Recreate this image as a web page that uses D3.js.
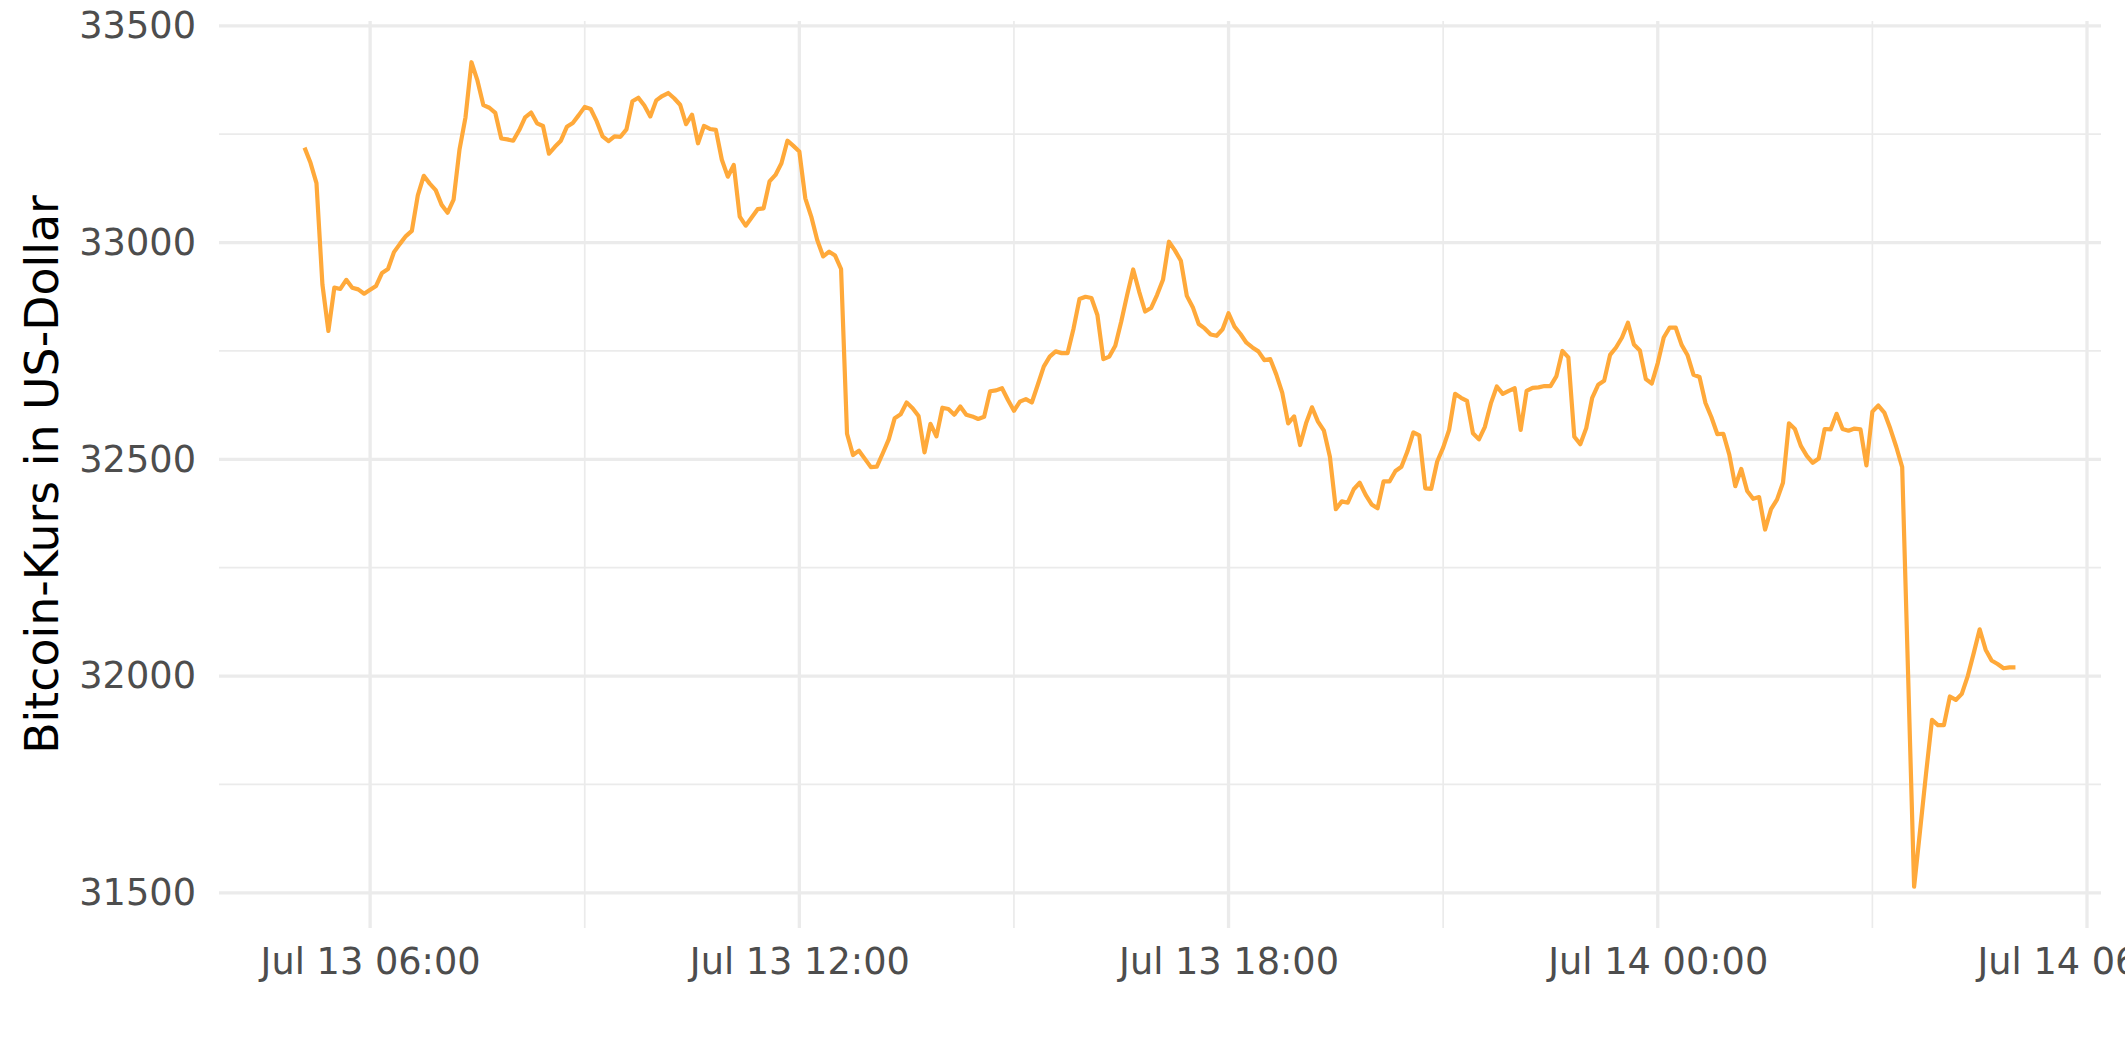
<!DOCTYPE html>
<html>
<head>
<meta charset="utf-8">
<script src="https://cdn.jsdelivr.net/npm/d3@7"></script>
<style>
  html, body { margin: 0; padding: 0; background: #ffffff; }
  svg { display: block; font-family: "DejaVu Sans", sans-serif; }
</style>
</head>
<body>
<svg id="chart" width="2125" height="1062"></svg>
<script>
// ---- data (5-minute Bitcoin prices) ----
const seriesStart = "2021-07-13T05:05:00";
const stepMinutes = 5;

// Jul 13, 05:05 .. 23:55 (one row per hour)
const pricesJul13 = [
  33219,33184,33137,32903,32796,32896,32893,32914,32896,32892,32882,
  32891,32900,32930,32939,32978,32997,33015,33027,33109,33154,33136,33121,
  33087,33069,33099,33215,33289,33416,33374,33317,33311,33299,33240,33238,
  33235,33259,33289,33300,33275,33269,33205,33221,33235,33267,33276,33294,
  33313,33308,33280,33245,33234,33245,33244,33261,33326,33334,33316,33291,
  33328,33338,33345,33333,33318,33273,33295,33229,33269,33262,33260,33191,
  33152,33179,33060,33039,33058,33077,33079,33141,33156,33183,33235,33223,
  33210,33102,33060,33006,32968,32979,32970,32939,32559,32510,32520,32501,
  32482,32483,32514,32546,32595,32604,32631,32618,32600,32516,32582,32553,
  32619,32616,32603,32622,32603,32599,32593,32598,32657,32659,32664,32637,
  32612,32633,32639,32631,32672,32714,32737,32749,32745,32745,32802,32870,
  32875,32872,32833,32731,32737,32762,32818,32880,32938,32887,32841,32849,
  32879,32914,33002,32982,32958,32877,32851,32812,32802,32788,32785,32800,
  32837,32806,32789,32769,32758,32749,32729,32731,32696,32654,32583,32599,
  32533,32583,32620,32587,32566,32506,32385,32403,32400,32431,32446,32418,
  32396,32387,32449,32449,32473,32483,32518,32562,32555,32433,32432,32495,
  32527,32568,32651,32642,32635,32560,32546,32575,32629,32668,32651,32658,
  32664,32568,32658,32665,32666,32669,32669,32692,32750,32735,32552,32535,
  32572,32642,32672,32681,32741,32758,32781,32815,32765,32751,32685,32675
];
// Jul 14, 00:00 .. 05:00
const pricesJul14 = [
  32722,32781,32804,32804,32764,32740,32695,32690,32630,32597,32558,32559,
  32511,32438,32478,32427,32409,32413,32338,32385,32407,32446,32583,32570,
  32531,32508,32492,32502,32570,32569,32605,32570,32566,32571,32569,32486,
  32610,32624,32608,32571,32529,32482,32000,31514,31644,31775,31899,31887,
  31887,31953,31945,31959,32000,32053,32108,32061,32036,32028,32018,32020,
  32020
];

const yTicks = [31500, 32000, 32500, 33000, 33500];
const yMinorTicks = [31750, 32250, 32750, 33250];
const xTickLabels = ["Jul 13 06:00", "Jul 13 12:00", "Jul 13 18:00", "Jul 14 00:00", "Jul 14 06:00"];
const yTitle = "Bitcoin-Kurs in US-Dollar";

// ---- build series ----
const prices = pricesJul13.concat(pricesJul14);
const t0 = new Date(seriesStart);
const data = prices.map((v, i) => ({ t: new Date(t0.getTime() + i * stepMinutes * 60000), v }));

// ---- layout ----
const svg = d3.select("#chart");
const panel = { left: 219, right: 2101, top: 21, bottom: 928 };

const tExt = d3.extent(data, d => d.t);
const tPad = (tExt[1] - tExt[0]) * 0.05;
const x = d3.scaleTime()
  .domain([new Date(+tExt[0] - tPad), new Date(+tExt[1] + tPad)])
  .range([panel.left, panel.right]);

const vExt = d3.extent(data, d => d.v);
const vPad = (vExt[1] - vExt[0]) * 0.05;
const y = d3.scaleLinear()
  .domain([vExt[0] - vPad, vExt[1] + vPad])
  .range([panel.bottom, panel.top]);

const gridCol = "#ebebeb";
const majorTimes = xTickLabels.map(s => d3.timeParse("%b %d %H:%M")(s)).map(d => { d.setFullYear(2021); return d; });
const minorTimes = majorTimes.slice(0, -1).map(d => new Date(+d + 3 * 3600000))
  .concat([new Date(+majorTimes[0] - 3 * 3600000)])
  .filter(d => x(d) >= panel.left && x(d) <= panel.right);

// minor grid
svg.append("g").selectAll("line").data(yMinorTicks).join("line")
  .attr("x1", panel.left).attr("x2", panel.right)
  .attr("y1", d => y(d)).attr("y2", d => y(d))
  .attr("stroke", gridCol).attr("stroke-width", 1.7);
svg.append("g").selectAll("line").data(minorTimes).join("line")
  .attr("x1", d => x(d)).attr("x2", d => x(d))
  .attr("y1", panel.top).attr("y2", panel.bottom)
  .attr("stroke", gridCol).attr("stroke-width", 1.7);

// major grid
svg.append("g").selectAll("line").data(yTicks).join("line")
  .attr("x1", panel.left).attr("x2", panel.right)
  .attr("y1", d => y(d)).attr("y2", d => y(d))
  .attr("stroke", gridCol).attr("stroke-width", 3.3);
svg.append("g").selectAll("line").data(majorTimes).join("line")
  .attr("x1", d => x(d)).attr("x2", d => x(d))
  .attr("y1", panel.top).attr("y2", panel.bottom)
  .attr("stroke", gridCol).attr("stroke-width", 3.3);

// axes (labels only, via d3 axes)
const yAxis = svg.append("g")
  .attr("transform", `translate(${panel.left - 23},0)`)
  .call(d3.axisLeft(y).tickValues(yTicks).tickSize(0).tickPadding(0).tickFormat(d3.format("d")));
yAxis.select(".domain").remove();
yAxis.selectAll("text")
  .attr("font-family", "DejaVu Sans, sans-serif")
  .attr("font-size", 36.7).attr("fill", "#4d4d4d");

const xAxis = svg.append("g")
  .attr("transform", `translate(0,${panel.bottom + 20})`)
  .call(d3.axisBottom(x).tickValues(majorTimes).tickSize(0).tickPadding(0)
    .tickFormat((d, i) => xTickLabels[i]));
xAxis.select(".domain").remove();
xAxis.selectAll("text")
  .attr("font-family", "DejaVu Sans, sans-serif")
  .attr("font-size", 36.7).attr("fill", "#4d4d4d");

// y title
svg.append("text")
  .attr("transform", `translate(58,${(panel.top + panel.bottom) / 2}) rotate(-90)`)
  .attr("text-anchor", "middle")
  .attr("font-size", 45.8).attr("fill", "#000000")
  .text(yTitle);

// line
svg.append("path")
  .datum(data)
  .attr("fill", "none")
  .attr("stroke", "#ffa93a")
  .attr("stroke-width", 4.2)
  .attr("stroke-linejoin", "round")
  .attr("d", d3.line().x(d => x(d.t)).y(d => y(d.v)));
</script>
</body>
</html>
